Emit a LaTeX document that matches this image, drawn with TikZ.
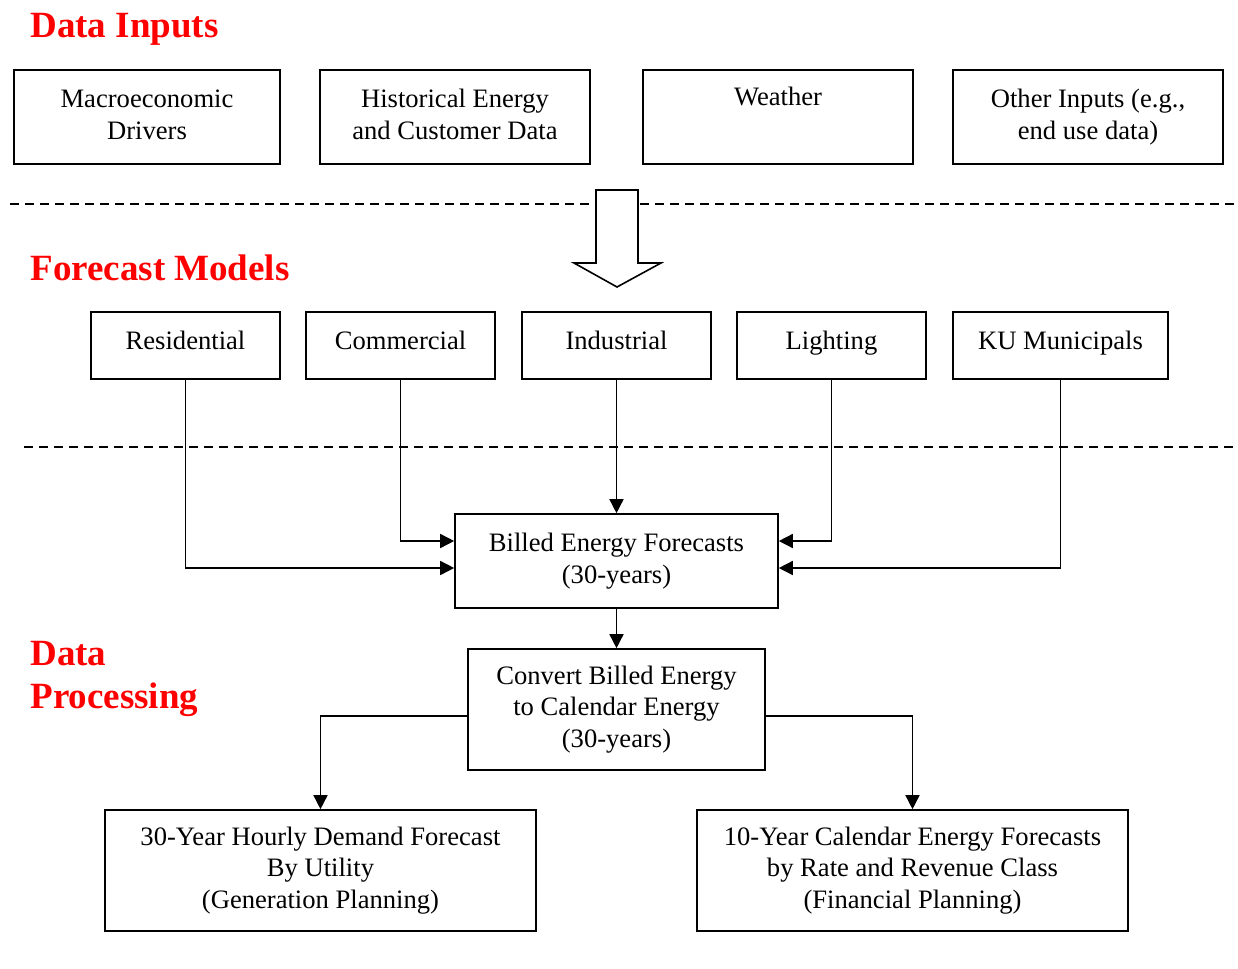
\documentclass[tikz,border=0pt]{standalone}
\usepackage{fontspec}
\setmainfont{Liberation Serif}
\usetikzlibrary{arrows.meta}

\newcommand{\twoline}[2]{\raisebox{2.5pt}{\begin{tabular}{@{}c@{}}#1\\#2\end{tabular}}}

\tikzset{
  box/.style={draw, line width=0.8pt, align=center, inner sep=0pt,
    font=\fontsize{13.3}{15.8}\selectfont},
  inbox/.style={box, minimum width=135pt, minimum height=47pt},
  mbox/.style={box, minimum width=94.5pt, minimum height=33.5pt},
  head/.style={anchor=base west, text=red, inner sep=0pt, align=left,
    font=\fontsize{18.5}{21.5}\selectfont\bfseries},
  conn/.style={line width=0.75pt, -{Triangle[length=7pt,width=7pt]}},
  sep/.style={line width=0.6pt, dash pattern=on 4.5pt off 3pt},
}

\begin{document}
\begin{tikzpicture}[x=0.5pt,y=-0.5pt]
\useasboundingbox (0,0) rectangle (1238,969);
% headings
\node[head] (hin) at (30,38) {Data Inputs};
\node[head] (hfm) at (30,280) {Forecast Models};
\node[head,anchor=north west] (hdp) at (30,641) {Data\\Processing};

% inputs
\node[inbox,minimum width=133pt] (macro) at (147,117) {\twoline{Macroeconomic}{Drivers}};
\node[inbox] (hist) at (455,117) {\twoline{Historical Energy}{and Customer Data}};
\node[inbox] (wthr) at (778,117) {\raisebox{21pt}{Weather}};
\node[inbox] (other) at (1088,117) {\twoline{Other Inputs (e.g.,}{end use data)}};

\draw[sep] (10,204) -- (1238,204);
\draw[line width=0.8pt,fill=white] (596,190) -- (638,190) -- (638,263) -- (661,263)
  -- (617,287) -- (574,263) -- (596,263) -- cycle;

% models
\node[mbox] (res) at (185.5,345.5) {\raisebox{5.5pt}{Residential}};
\node[mbox] (com) at (400.5,345.5) {\raisebox{5.5pt}{Commercial}};
\node[mbox] (ind) at (616.5,345.5) {\raisebox{5.5pt}{Industrial}};
\node[mbox] (lig) at (831.5,345.5) {\raisebox{5.5pt}{Lighting}};
\node[mbox,minimum width=107.5pt] (ku) at (1060.5,345.5) {\raisebox{5.5pt}{KU Municipals}};

\draw[sep] (24,447) -- (1238,447);

% processing
\node[box,minimum width=161.5pt,minimum height=47pt] (billed) at (616.5,561)
  {Billed Energy Forecasts\\(30-years)};
\node[box,minimum width=148.5pt,minimum height=60.5pt] (conv) at (616.5,709.5)
  {Convert Billed Energy\\to Calendar Energy\\(30-years)};
\node[box,minimum width=215.5pt,minimum height=60.5pt] (gen) at (320.5,870.5)
  {30-Year Hourly Demand Forecast\\By Utility\\(Generation Planning)};
\node[box,minimum width=215.5pt,minimum height=60.5pt] (fin) at (912.5,870.5)
  {10-Year Calendar Energy Forecasts\\by Rate and Revenue Class\\(Financial Planning)};

\draw[conn] (res.south) |- ([yshift=-3.5pt]billed.west);
\draw[conn] (com.south) |- ([yshift=10pt]billed.west);
\draw[conn] (ind) -- (billed);
\draw[conn] (lig.south) |- ([yshift=10pt]billed.east);
\draw[conn] (ku.south) |- ([yshift=-3.5pt]billed.east);
\draw[conn] (billed) -- (conv);
\draw[conn] ([yshift=-3.25pt]conv.west) -| (gen.north);
\draw[conn] ([yshift=-3.25pt]conv.east) -| (fin.north);
\end{tikzpicture}
\end{document}
